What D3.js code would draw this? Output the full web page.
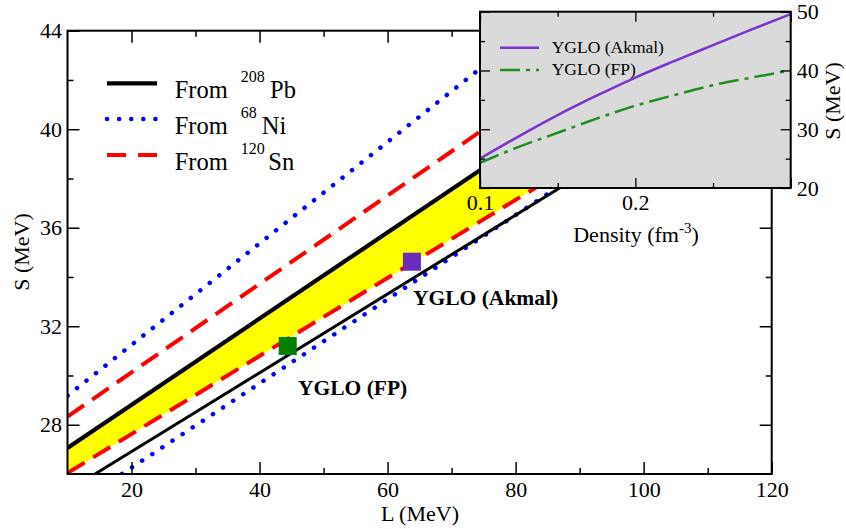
<!DOCTYPE html>
<html>
<head>
<meta charset="utf-8">
<script src="https://cdn.jsdelivr.net/npm/d3@7"></script>
<style>
  html, body { margin: 0; padding: 0; background: #fff; }
  text { font-family: "Liberation Serif", "Times New Roman", serif; fill: #000; }
</style>
</head>
<body>
<svg id="chart" width="846" height="529"></svg>
<script>
// ---------- DATA ----------
// Main panel: lines given by two (L, S) points
const pbUpper = [[10, 27.06], [80, 39.31]];
const pbLower = [[14.3, 26.0], [95, 38.91]];
const niUpper = [[10, 29.18], [76, 42.78]];
const niLower = [[18.5, 26.0], [95, 39.08]];
const snUpper = [[10, 28.33], [78, 40.54]];
const snLower = [[10, 26.04], [95, 39.51]];
const modelNames = ["YGLO (Akmal)", "YGLO (FP)"];
const modelL = [63.8, 44.4];
const modelS = [34.62, 31.2];
const legendLabels = [["From ", "208", "Pb"], ["From ", "68", "Ni"], ["From ", "120", "Sn"]];
const xMajorTicks = [20, 40, 60, 80, 100, 120];
const xMinorTicks = [30, 50, 70, 90, 110];
const yMajorTicks = [28, 32, 36, 40, 44];
const yMinorTicks = [30, 34, 38, 42];

// Inset: symmetry energy vs density
const density = [0.1, 0.125, 0.15, 0.175, 0.2, 0.225, 0.25, 0.275, 0.3];
const sAkmal  = [25.0, 28.8, 32.4, 35.7, 38.8, 41.6, 44.3, 47.0, 49.6];
const sFP     = [24.3, 27.0, 29.4, 31.8, 34.0, 35.8, 37.5, 38.8, 40.0];
const insetXMajor = [0.1, 0.2, 0.3];
const insetXMinor = [0.15, 0.25];
const insetXLabels = ["0.1", "0.2", ""];
const insetYMajor = [20, 30, 40, 50];
const insetYMinor = [25, 35, 45];

// ---------- CHART ----------
const svg = d3.select("#chart");
const x = d3.scaleLinear().domain([10, 120]).range([67.5, 771.7]);
const y = d3.scaleLinear().domain([26, 44]).range([474, 30.7]);
const X0 = x.range()[0], X1 = x.range()[1], Y0 = y.range()[1], Y1 = y.range()[0];

svg.append("defs").append("clipPath").attr("id", "plotclip")
  .append("rect").attr("x", X0).attr("y", Y0).attr("width", X1 - X0).attr("height", Y1 - Y0);

const plot = svg.append("g").attr("clip-path", "url(#plotclip)");
const line = d3.line().x(d => x(d[0])).y(d => y(d[1]));

// yellow overlap band between Pb upper and Sn lower
const band = pbUpper.concat(snLower.slice().reverse());
plot.append("path").attr("d", line(band) + "Z").attr("fill", "#ffff00").attr("stroke", "none");

const styles = {
  pb: {stroke: "#000", dash: null},
  ni: {stroke: "#0000ff", dash: "0.1,12"},
  sn: {stroke: "#ff0000", dash: "20,10"}
};
function drawLine(data, st, w, cap) {
  plot.append("path").attr("d", line(data)).attr("fill", "none")
    .attr("stroke", st.stroke).attr("stroke-width", w)
    .attr("stroke-dasharray", st.dash)
    .attr("stroke-linecap", cap || "butt");
}
drawLine(niUpper, styles.ni, 4.5, "round");
drawLine(niLower, styles.ni, 4.5, "round");
drawLine(snUpper, styles.sn, 4, "butt");
drawLine(snLower, styles.sn, 4, "butt");
drawLine(pbUpper, styles.pb, 4.2);
drawLine(pbLower, styles.pb, 3);

// model squares
const sq = 18;
const sqColors = ["#6b2bbb", "#008000"];
modelL.forEach((L, i) => {
  plot.append("rect").attr("x", x(L) - sq / 2).attr("y", y(modelS[i]) - sq / 2)
    .attr("width", sq).attr("height", sq).attr("fill", sqColors[i]);
});
svg.append("text").attr("x", 413).attr("y", 305).attr("font-size", 21.5).attr("font-weight", "bold").text(modelNames[0]);
svg.append("text").attr("x", 298).attr("y", 395).attr("font-size", 21.5).attr("font-weight", "bold").text(modelNames[1]);

// frame
svg.append("rect").attr("x", X0).attr("y", Y0).attr("width", X1 - X0).attr("height", Y1 - Y0)
  .attr("fill", "none").attr("stroke", "#000").attr("stroke-width", 2);

function styleAxis(g) {
  g.select(".domain").remove();
  g.selectAll("line").attr("stroke", "#000").attr("stroke-width", 1.5);
  g.selectAll("text").attr("font-family", "Liberation Serif, serif").attr("font-size", 22).attr("fill", "#000");
}
// bottom
svg.append("g").attr("transform", `translate(0,${Y1})`)
  .call(d3.axisBottom(x).tickValues(xMajorTicks).tickSize(-12).tickPadding(7).tickFormat(d3.format("d"))).call(styleAxis);
svg.append("g").attr("transform", `translate(0,${Y1})`)
  .call(d3.axisBottom(x).tickValues(xMinorTicks).tickSize(-6).tickFormat("")).call(styleAxis);
// top
svg.append("g").attr("transform", `translate(0,${Y0})`)
  .call(d3.axisTop(x).tickValues(xMajorTicks).tickSize(-12).tickFormat("")).call(styleAxis);
svg.append("g").attr("transform", `translate(0,${Y0})`)
  .call(d3.axisTop(x).tickValues(xMinorTicks).tickSize(-6).tickFormat("")).call(styleAxis);
// left
svg.append("g").attr("transform", `translate(${X0},0)`)
  .call(d3.axisLeft(y).tickValues(yMajorTicks).tickSize(-12).tickPadding(5.5).tickFormat(d3.format("d"))).call(styleAxis);
svg.append("g").attr("transform", `translate(${X0},0)`)
  .call(d3.axisLeft(y).tickValues(yMinorTicks).tickSize(-6).tickFormat("")).call(styleAxis);
// right
svg.append("g").attr("transform", `translate(${X1},0)`)
  .call(d3.axisRight(y).tickValues(yMajorTicks).tickSize(-12).tickFormat("")).call(styleAxis);
svg.append("g").attr("transform", `translate(${X1},0)`)
  .call(d3.axisRight(y).tickValues(yMinorTicks).tickSize(-6).tickFormat("")).call(styleAxis);

// axis titles
svg.append("text").attr("x", 420).attr("y", 521).attr("text-anchor", "middle").attr("font-size", 22).text("L (MeV)");
svg.append("text").attr("transform", "translate(29,252) rotate(-90)").attr("text-anchor", "middle").attr("font-size", 22).text("S (MeV)");

// legend
const legY = [83.3, 119, 155];
const legSt = [[styles.pb, 4.2, "butt"], [styles.ni, 4.5, "round"], [styles.sn, 4, "butt"]];
legendLabels.forEach((lab, i) => {
  const st = legSt[i];
  svg.append("line").attr("x1", 107).attr("x2", 157).attr("y1", legY[i]).attr("y2", legY[i])
    .attr("stroke", st[0].stroke).attr("stroke-width", st[1])
    .attr("stroke-dasharray", st[0].dash === "20,10" ? "19,12" : st[0].dash)
    .attr("stroke-linecap", st[2]);
  const t = svg.append("text").attr("y", legY[i] + 14.5).attr("font-size", 24.5);
  t.append("tspan").attr("x", 174.7).text(lab[0]);
  t.append("tspan").attr("x", 240.7).attr("dy", -15.5).attr("font-size", 16).text(lab[1]);
  t.append("tspan").attr("x", i === 1 ? 261.7 : (i === 0 ? 270 : 268.3)).attr("dy", 15.5).text(lab[2]);
});

// ---------- INSET ----------
const xi = d3.scaleLinear().domain([0.1, 0.3]).range([480, 790.7]);
const yi = d3.scaleLinear().domain([20, 50]).range([188, 11.7]);
const IX0 = xi.range()[0], IX1 = xi.range()[1], IY0 = yi.range()[1], IY1 = yi.range()[0];
const inset = svg.append("g");
inset.append("rect").attr("x", IX0).attr("y", IY0).attr("width", IX1 - IX0).attr("height", IY1 - IY0)
  .attr("fill", "#dadada");
const iline = d3.line().x((d, i) => xi(density[i])).y(d => yi(d)).curve(d3.curveMonotoneX);
inset.append("path").attr("d", iline(sFP)).attr("fill", "none").attr("stroke", "#1f8f1f")
  .attr("stroke-width", 2.5).attr("stroke-dasharray", "20,6,4,6");
inset.append("path").attr("d", iline(sAkmal)).attr("fill", "none").attr("stroke", "#7a33cc")
  .attr("stroke-width", 2.5);
inset.append("rect").attr("x", IX0).attr("y", IY0).attr("width", IX1 - IX0).attr("height", IY1 - IY0)
  .attr("fill", "none").attr("stroke", "#000").attr("stroke-width", 2);

function styleInset(g) {
  g.select(".domain").remove();
  g.selectAll("line").attr("stroke", "#000").attr("stroke-width", 1.3);
  g.selectAll("text").attr("font-family", "Liberation Serif, serif").attr("font-size", 22).attr("fill", "#000");
}
inset.append("g").attr("transform", `translate(0,${IY1})`)
  .call(d3.axisBottom(xi).tickValues(insetXMajor).tickSize(-10).tickPadding(6).tickFormat((d, i) => insetXLabels[i])).call(styleInset);
inset.append("g").attr("transform", `translate(0,${IY1})`)
  .call(d3.axisBottom(xi).tickValues(insetXMinor).tickSize(-5).tickFormat("")).call(styleInset);
inset.append("g").attr("transform", `translate(0,${IY0})`)
  .call(d3.axisTop(xi).tickValues(insetXMajor).tickSize(-10).tickFormat("")).call(styleInset);
inset.append("g").attr("transform", `translate(0,${IY0})`)
  .call(d3.axisTop(xi).tickValues(insetXMinor).tickSize(-5).tickFormat("")).call(styleInset);
inset.append("g").attr("transform", `translate(${IX0},0)`)
  .call(d3.axisLeft(yi).tickValues(insetYMajor).tickSize(-10).tickFormat("")).call(styleInset);
inset.append("g").attr("transform", `translate(${IX0},0)`)
  .call(d3.axisLeft(yi).tickValues(insetYMinor).tickSize(-5).tickFormat("")).call(styleInset);
inset.append("g").attr("transform", `translate(${IX1},0)`)
  .call(d3.axisRight(yi).tickValues(insetYMajor).tickSize(-10).tickPadding(6).tickFormat(d3.format("d"))).call(styleInset);
inset.append("g").attr("transform", `translate(${IX1},0)`)
  .call(d3.axisRight(yi).tickValues(insetYMinor).tickSize(-5).tickFormat("")).call(styleInset);

// inset titles
const dt = inset.append("text").attr("x", 636).attr("y", 242).attr("text-anchor", "middle").attr("font-size", 22);
dt.append("tspan").text("Density (fm");
dt.append("tspan").attr("dy", -9).attr("font-size", 15).text("-3");
dt.append("tspan").attr("dy", 9).text(")");
inset.append("text").attr("transform", "translate(840,101) rotate(-90)").attr("text-anchor", "middle").attr("font-size", 22).text("S (MeV)");

// inset legend
inset.append("line").attr("x1", 500).attr("x2", 539).attr("y1", 47.7).attr("y2", 47.7)
  .attr("stroke", "#7a33cc").attr("stroke-width", 2.5);
inset.append("text").attr("x", 551.7).attr("y", 53.3).attr("font-size", 17.5).text(modelNames[0]);
inset.append("line").attr("x1", 500).attr("x2", 539).attr("y1", 70).attr("y2", 70)
  .attr("stroke", "#1f8f1f").attr("stroke-width", 2.5).attr("stroke-dasharray", "20,6,4,6");
inset.append("text").attr("x", 551.7).attr("y", 75.3).attr("font-size", 17.5).text(modelNames[1]);
</script>
</body>
</html>
